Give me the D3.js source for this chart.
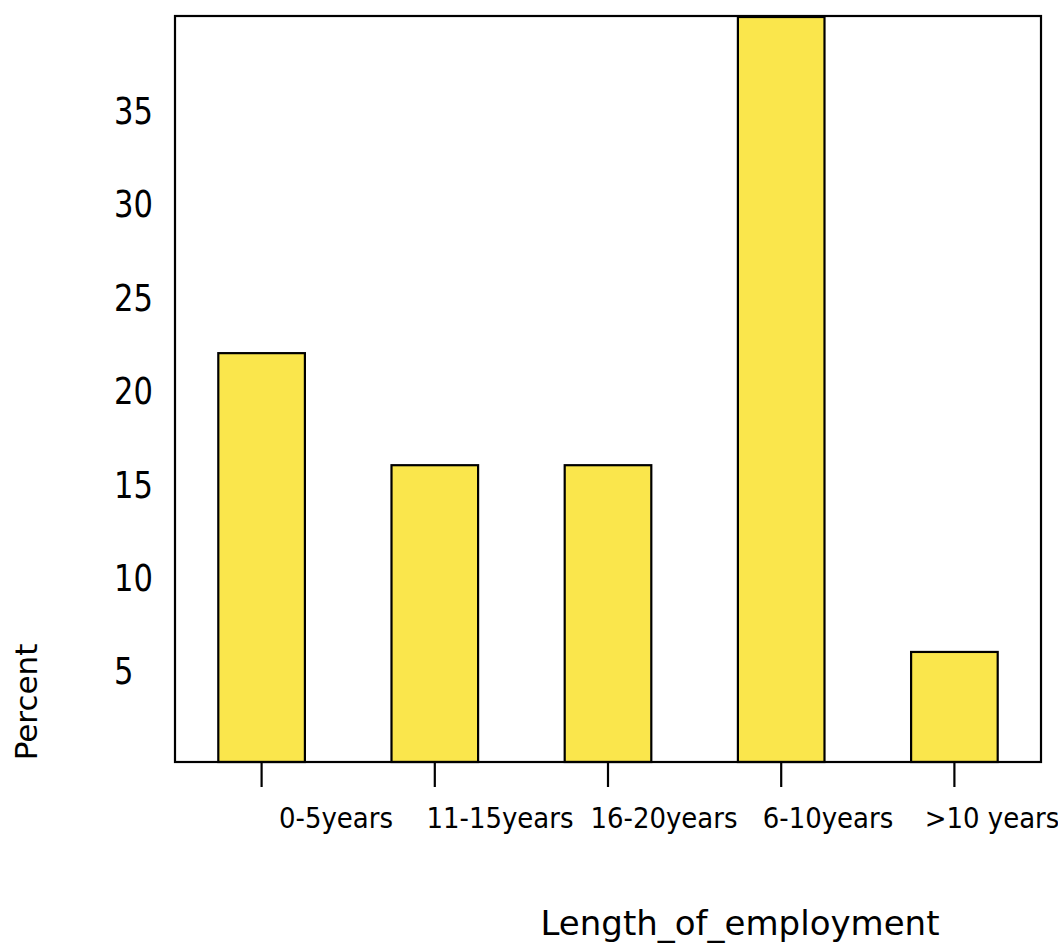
<!DOCTYPE html>
<html><head><meta charset="utf-8">
<script src="https://cdn.jsdelivr.net/npm/d3@7"></script>
<style>body{margin:0;background:#fff}</style>
</head><body>
<svg id="c" width="1058" height="944"></svg>
<script>
const categories = ["0-5years", "11-15years", "16-20years", "6-10years", ">10 years"];
const percents = [22, 16, 16, 40, 6];
const yTicks = [5, 10, 15, 20, 25, 30, 35];
const xTitle = "Length_of_employment";
const yTitle = "Percent";

const svg = d3.select("#c");
const L = 175, R = 1041, T = 16, B = 762;
const x = d3.scaleBand().domain(categories).range([L, R]).paddingInner(0.5).paddingOuter(0.25);
const y = d3.scaleLinear().domain([0, 40]).range([764, 17]);
const labelX = d3.scalePoint().domain(categories).range([336, 992]);

svg.append("rect").attr("x", L).attr("y", T).attr("width", R - L).attr("height", B - T)
  .attr("fill", "#fff").attr("stroke", "#000").attr("stroke-width", 2);

svg.selectAll("rect.bar").data(categories).join("rect").attr("class", "bar")
  .attr("x", d => x(d)).attr("width", x.bandwidth())
  .attr("y", (d, i) => Math.max(T, y(percents[i])))
  .attr("height", (d, i) => B - Math.max(T, y(percents[i])))
  .attr("fill", "#fae64c").attr("stroke", "#000").attr("stroke-width", 2.2);

svg.append("rect").attr("x", L).attr("y", T).attr("width", R - L).attr("height", B - T)
  .attr("fill", "none").attr("stroke", "#000").attr("stroke-width", 2.2);

svg.selectAll("line.xt").data(categories).join("line").attr("class", "xt")
  .attr("x1", d => x(d) + x.bandwidth() / 2).attr("x2", d => x(d) + x.bandwidth() / 2)
  .attr("y1", B).attr("y2", B + 25).attr("stroke", "#000").attr("stroke-width", 2.2);

svg.selectAll("text.xl").data(categories).join("text").attr("class", "xl")
  .attr("transform", d => `translate(${labelX(d)},828) scale(1,1.08)`).attr("text-anchor", "middle")
  .attr("font-family", "DejaVu Sans").attr("font-size", 26).attr("fill", "#000")
  .text(d => d);

svg.selectAll("text.yl").data(yTicks).join("text").attr("class", "yl")
  .attr("transform", d => `translate(114,${y(d)}) scale(1,1.12)`).attr("dy", "0.36em").attr("text-anchor", "start")
  .attr("font-family", "DejaVu Sans Condensed").attr("font-size", 34).attr("fill", "#000")
  .text(d => d);

svg.append("text").attr("transform", "translate(37,702) rotate(-90)")
  .attr("text-anchor", "middle").attr("font-family", "DejaVu Sans").attr("font-size", 31)
  .text(yTitle);

svg.append("text").attr("x", 740).attr("y", 935).attr("text-anchor", "middle")
  .attr("font-family", "DejaVu Sans").attr("font-size", 34).text(xTitle);
</script>
</body></html>
